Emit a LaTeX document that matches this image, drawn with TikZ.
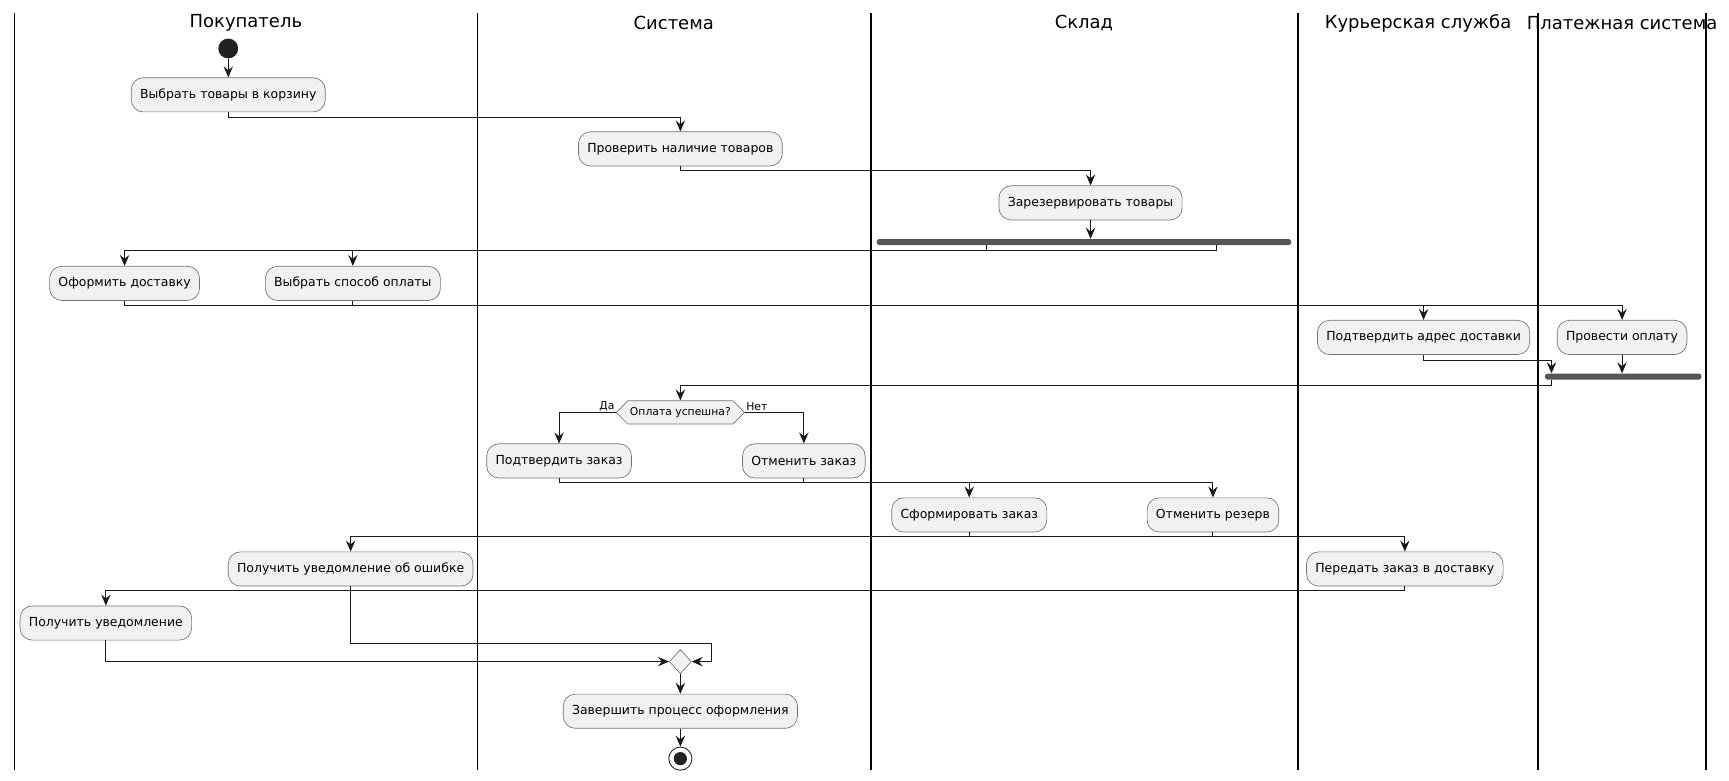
\documentclass[tikz,border=0pt]{standalone}
\usepackage{fontspec}
\setmainfont{DejaVu Sans}
\usepackage{xcolor}
\definecolor{actfill}{HTML}{F1F1F1}
\definecolor{barfill}{HTML}{555555}
\definecolor{dotfill}{HTML}{222222}
\usetikzlibrary{positioning,arrows.meta,shapes.geometric,shapes.symbols}
\tikzset{
  act/.style    ={rectangle, rounded corners=11pt, draw=black!55, fill=actfill, line width=0.6pt,
                  inner xsep=8pt, inner ysep=0pt, minimum height=31pt,
                  font=\fontsize{11.3}{13}\selectfont},
  lanetitle/.style={font=\fontsize{16.3}{19}\selectfont, inner sep=0pt},
  lane/.style   ={line width=1.5pt, black},
  bar/.style    ={rectangle, rounded corners=2.5pt, fill=barfill, draw=none,
                  minimum height=5.5pt, inner sep=0pt},
  cond/.style   ={signal, signal to=east and west, draw=black!55, fill=actfill, line width=0.6pt,
                  inner xsep=2pt, inner ysep=0pt, minimum height=21pt,
                  font=\fontsize{9.8}{11}\selectfont},
  merge/.style  ={diamond, draw=black!55, fill=actfill, line width=0.6pt, inner sep=0pt,
                  minimum width=20pt, minimum height=22pt},
  startdot/.style={circle, fill=dotfill, draw=none, minimum size=18pt, inner sep=0pt},
  enddot/.style ={circle, draw=black!85, line width=0.8pt, fill=white, minimum size=21pt,
                  inner sep=0pt,
                  path picture={\fill[dotfill] (path picture bounding box.center) circle (6pt);}},
  lbl/.style    ={font=\fontsize{9.8}{11}\selectfont, inner sep=1pt},
  arr/.style    ={-{Stealth[length=10pt, width=8.5pt, inset=3.5pt]}, line width=0.9pt, black!90},
}

\begin{document}
\begin{tikzpicture}[x=1pt, y=-1pt]
  \useasboundingbox (0,0) rectangle (1568,708);
  % swimlanes
  \foreach \x in {13,433,790,1177,1395,1547}
    \draw[lane] (\x,12) -- (\x,698);
  \node[lanetitle] (lbuyer)   at (223,21)  {Покупатель};
  \node[lanetitle] (lsystem)  at (611,21)  {Система};
  \node[lanetitle] (lstore)   at (983,21)  {Склад};
  \node[lanetitle] (lcourier) at (1286,21) {Курьерская служба};
  \node[lanetitle] (lpay)     at (1471,21) {Платежная система};

  % actions
  \node[startdot] (start)   at (207,44)  {};
  \node[act]      (cart)    at (207,86)  {Выбрать товары в корзину};
  \node[act]      (check)   at (617,135) {Проверить наличие товаров};
  \node[act]      (reserve) at (989,184) {Зарезервировать товары};
  \node[bar, minimum width=376pt] (fork1) at (983,219.5) {};
  \node[act]      (dlv)     at (113,257) {Оформить доставку};
  \node[act]      (paysel)  at (320,257) {Выбрать способ оплаты};
  \node[act]      (addr)    at (1291,306) {Подтвердить адрес доставки};
  \node[act]      (payproc) at (1471,306) {Провести оплату};
  \node[bar, minimum width=142pt] (join1) at (1472,341.5) {};
  \node[cond]     (dec)     at (617,374) {Оплата успешна?};
  \node[lbl, anchor=south east] (yeslbl) at (dec.west) {Да};
  \node[lbl, anchor=south west] (nolbl)  at (dec.east) {Нет};
  \node[act]      (confirm) at (507,418) {Подтвердить заказ};
  \node[act]      (cancel)  at (729,418) {Отменить заказ};
  \node[act]      (form)    at (879,467) {Сформировать заказ};
  \node[act]      (unres)   at (1100,467) {Отменить резерв};
  \node[act]      (errnote) at (318,516) {Получить уведомление об ошибке};
  \node[act]      (handover) at (1274,516) {Передать заказ в доставку};
  \node[act]      (note)    at (96,565)  {Получить уведомление};
  \node[merge]    (mrg)     at (617,600) {};
  \node[act]      (finish)  at (617,645) {Завершить процесс оформления};
  \node[enddot]   (stop)    at (617,688) {};

  % flow
  \draw[arr] (start) -- (cart);
  \draw[arr] (cart.south) -- ++(0,5) -| (check.north);
  \draw[arr] (check.south) -- ++(0,4) -| (reserve.north);
  \draw[arr] (reserve.south) -- (reserve.south |- fork1.north);
  \draw[arr] ([xshift=-88pt]fork1.south) -- ++(0,5) -| (dlv.north);
  \draw[arr] ([xshift=120pt]fork1.south) -- ++(0,5) -| (paysel.north);
  \draw[arr] (dlv.south) -- ++(0,4) -| (addr.north);
  \draw[arr] (paysel.south) -- ++(0,4) -| (payproc.north);
  \draw[arr] (addr.south) -- ++(0,5) -| ([xshift=-65pt]join1.north);
  \draw[arr] (payproc.south) -- (payproc.south |- join1.north);
  \draw[arr] ([xshift=-65pt]join1.south) -- ++(0,5) -| (dec.north);
  \draw[arr] (dec.west) -| (confirm.north);
  \draw[arr] (dec.east) -| (cancel.north);
  \draw[arr] (confirm.south) -- ++(0,4) -| (form.north);
  \draw[arr] (cancel.south) -- ++(0,4) -| (unres.north);
  \draw[arr] (form.south) -- ++(0,4) -| (handover.north);
  \draw[arr] (unres.south) -- ++(0,4) -| (errnote.north);
  \draw[arr] (handover.south) -- ++(0,4) -| (note.north);
  \draw[arr] (errnote.south) -- ++(0,52) -| ([xshift=18pt]mrg.east) -- (mrg.east);
  \draw[arr] (note.south) |- (mrg.west);
  \draw[arr] (mrg) -- (finish);
  \draw[arr] (finish) -- (stop);
\end{tikzpicture}
\end{document}
